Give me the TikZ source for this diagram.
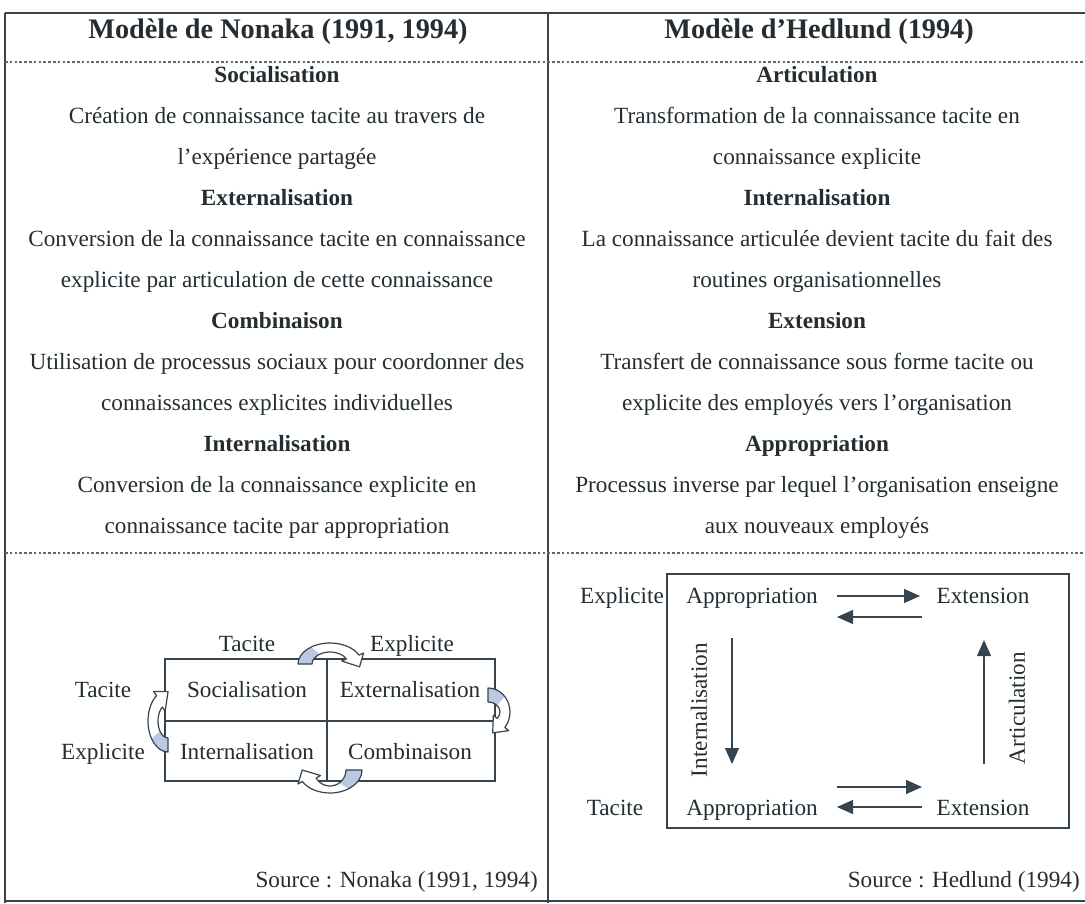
\documentclass[tikz,border=0pt]{standalone}
\usepackage{fontspec}
\setmainfont{Liberation Serif}
\usetikzlibrary{arrows.meta}
\definecolor{textcol}{RGB}{35,45,50}
\definecolor{linecol}{RGB}{55,68,78}
\definecolor{arrowblue}{RGB}{186,201,224}
\newcommand{\bodyfont}{\fontsize{17.4}{20}\selectfont}
\newcommand{\nkArrow}[9]{%
% #1 centre, #2 start angle, #3 colour split angle, #4 end angle, #5 head length,
% #6 outer x radius, #7 outer y radius, #8 inner x radius, #9 inner y radius
\begin{scope}[shift={#1}]
\pgfmathsetmacro\nkRxi{#8}\pgfmathsetmacro\nkRyi{#9}
\pgfmathsetmacro\nkRxm{(#6+#8)/2}\pgfmathsetmacro\nkRym{(#7+#9)/2}
\pgfmathsetmacro\nkRxo{#6+5}\pgfmathsetmacro\nkRyo{#7+5}
\pgfmathsetmacro\nkRxn{#8-5}\pgfmathsetmacro\nkRyn{#9-5}
\pgfmathsetmacro\nkTx{\nkRxm*sin(#4)}
\pgfmathsetmacro\nkTy{-\nkRym*cos(#4)}
\pgfmathsetmacro\nkTn{veclen(\nkTx,\nkTy)}
\pgfmathsetmacro\nkPx{\nkRxm*cos(#4)+#5*\nkTx/\nkTn}
\pgfmathsetmacro\nkPy{\nkRym*sin(#4)+#5*\nkTy/\nkTn}
\fill[arrowblue] ({#6*cos(#2)},{#7*sin(#2)}) arc[start angle=#2,end angle=#3,x radius=#6,y radius=#7]
  -- ({\nkRxi*cos(#3)},{\nkRyi*sin(#3)}) arc[start angle=#3,end angle=#2,x radius=\nkRxi,y radius=\nkRyi] -- cycle;
\fill[white] ({#6*cos(#3)},{#7*sin(#3)}) arc[start angle=#3,end angle=#4,x radius=#6,y radius=#7]
  -- ({\nkRxo*cos(#4)},{\nkRyo*sin(#4)}) -- (\nkPx,\nkPy) -- ({\nkRxn*cos(#4)},{\nkRyn*sin(#4)})
  -- ({\nkRxi*cos(#4)},{\nkRyi*sin(#4)}) arc[start angle=#4,end angle=#3,x radius=\nkRxi,y radius=\nkRyi] -- cycle;
\draw[curvline] ({#6*cos(#2)},{#7*sin(#2)}) arc[start angle=#2,end angle=#4,x radius=#6,y radius=#7]
  -- ({\nkRxo*cos(#4)},{\nkRyo*sin(#4)}) -- (\nkPx,\nkPy) -- ({\nkRxn*cos(#4)},{\nkRyn*sin(#4)})
  -- ({\nkRxi*cos(#4)},{\nkRyi*sin(#4)}) arc[start angle=#4,end angle=#2,x radius=\nkRxi,y radius=\nkRyi] -- cycle;
\end{scope}}
\tikzset{
  txt/.style={font=\bodyfont, text=textcol, anchor=base, inner sep=0pt},
  hd/.style={txt, font=\bodyfont\bfseries},
  ttl/.style={txt, font=\fontsize{21.2}{24}\selectfont\bfseries},
  frame/.style={draw=linecol, line width=1.1pt},
  sep/.style={draw=gray!80!black, line width=0.9pt, dash pattern=on 2pt off 1.6pt},
  boxline/.style={draw=linecol, line width=0.8pt},
  curvline/.style={draw=linecol, line width=0.9pt, line join=round},
  arr/.style={draw=linecol, line width=0.9pt, -{Triangle[length=12pt,width=10.5pt]}},
  rot/.style={txt, anchor=center, rotate=90}
}
\begin{document}
\begin{tikzpicture}[x=0.75pt, y=0.75pt, yscale=-1]
\useasboundingbox (0,0) rectangle (1085,903);
% ---- table frame
\draw[frame] (5,13) -- (1085,13);
\draw[frame] (5,13) -- (5,903);
\draw[frame] (548,13) -- (548,903);
\draw[frame] (5,901) -- (1085,901);
\draw[sep] (5,62) -- (1085,62);
\draw[sep] (5,553) -- (1085,553);
% ---- titles
\node[ttl] (tl) at (278,38) {Modèle de Nonaka (1991, 1994)};
\node[ttl] (tr) at (819,38) {Modèle d’Hedlund (1994)};
% ---- left column text
\node[hd]  (l0)  at (277,82)  {Socialisation};
\node[txt] (l1)  at (277,123) {Création de connaissance tacite au travers de};
\node[txt] (l2)  at (277,164) {l’expérience partagée};
\node[hd]  (l3)  at (277,205) {Externalisation};
\node[txt] (l4)  at (277,246) {Conversion de la connaissance tacite en connaissance};
\node[txt] (l5)  at (277,287) {explicite par articulation de cette connaissance};
\node[hd]  (l6)  at (277,328) {Combinaison};
\node[txt] (l7)  at (277,369) {Utilisation de processus sociaux pour coordonner des};
\node[txt] (l8)  at (277,410) {connaissances explicites individuelles};
\node[hd]  (l9)  at (277,451) {Internalisation};
\node[txt] (l10) at (277,492) {Conversion de la connaissance explicite en};
\node[txt] (l11) at (277,533) {connaissance tacite par appropriation};
% ---- right column text
\node[hd]  (r0)  at (817,82)  {Articulation};
\node[txt] (r1)  at (817,123) {Transformation de la connaissance tacite en};
\node[txt] (r2)  at (817,164) {connaissance explicite};
\node[hd]  (r3)  at (817,205) {Internalisation};
\node[txt] (r4)  at (817,246) {La connaissance articulée devient tacite du fait des};
\node[txt] (r5)  at (817,287) {routines organisationnelles};
\node[hd]  (r6)  at (817,328) {Extension};
\node[txt] (r7)  at (817,369) {Transfert de connaissance sous forme tacite ou};
\node[txt] (r8)  at (817,410) {explicite des employés vers l’organisation};
\node[hd]  (r9)  at (817,451) {Appropriation};
\node[txt] (r10) at (817,492) {Processus inverse par lequel l’organisation enseigne};
\node[txt] (r11) at (817,533) {aux nouveaux employés};
% ---- sources
\node[txt, anchor=base east] (sl) at (538,887) {Source : Nonaka (1991, 1994)};
\node[txt, anchor=base east] (sr) at (1080,887) {Source : Hedlund (1994)};
% ---- Nonaka diagram
\draw[boxline] (165,659) rectangle (495,781);
\draw[boxline] (327,659) -- (327,781);
\draw[boxline] (165,721) -- (495,721);
\node[txt] (nTt) at (247,651) {Tacite};
\node[txt] (nTe) at (412,651) {Explicite};
\node[txt] (nLt) at (103,697) {Tacite};
\node[txt] (nLe) at (103,759) {Explicite};
\node[txt] (soc) at (247,697) {Socialisation};
\node[txt] (ext) at (410,697) {Externalisation};
\node[txt] (int) at (247,759) {Internalisation};
\node[txt] (com) at (410,759) {Combinaison};
\begin{scope}[shift={(327,721)}, yscale=-1]
\nkArrow{(3,57)}{180}{125}{25}{12}{32}{21}{18}{12}
\nkArrow{(161,9)}{90}{40}{-40}{13}{22}{24}{12}{10}
\nkArrow{(3,-49)}{0}{-55}{-150}{12}{32}{23}{16}{16}
\nkArrow{(-159,0)}{270}{215}{125}{13}{20}{31}{10}{17}
\end{scope}
% ---- Hedlund diagram
\draw[boxline] (667,574) rectangle (1069,828);
\node[txt] (hEx) at (622,603) {Explicite};
\node[txt] (hTa) at (615,815) {Tacite};
\node[txt] (hA1) at (752,603) {Appropriation};
\node[txt] (hE1) at (983,603) {Extension};
\node[txt] (hA2) at (752,815) {Appropriation};
\node[txt] (hE2) at (983,815) {Extension};
\node[rot] (hInt) at (699,710) {Internalisation};
\node[rot] (hArt) at (1017,708) {Articulation};
\coordinate (a1s) at (837,596); \coordinate (a1e) at (920,596);
\coordinate (a2s) at (922,617); \coordinate (a2e) at (837,617);
\coordinate (a3s) at (837,787); \coordinate (a3e) at (922,787);
\coordinate (a4s) at (922,807); \coordinate (a4e) at (837,807);
\coordinate (a5s) at (732,638); \coordinate (a5e) at (732,764);
\coordinate (a6s) at (984,764); \coordinate (a6e) at (984,640);
\draw[arr] (a1s) -- (a1e);
\draw[arr] (a2s) -- (a2e);
\draw[arr] (a3s) -- (a3e);
\draw[arr] (a4s) -- (a4e);
\draw[arr] (a5s) -- (a5e);
\draw[arr] (a6s) -- (a6e);
\end{tikzpicture}
\end{document}
